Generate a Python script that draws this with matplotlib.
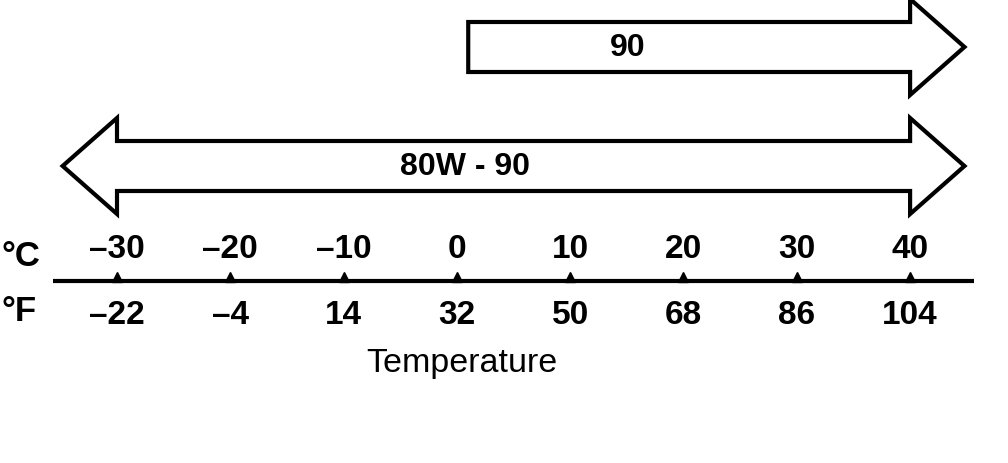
import matplotlib
matplotlib.use("Agg")
import matplotlib.pyplot as plt
from matplotlib.patches import Polygon

# ------------------------------------------------------------------
# data
# ------------------------------------------------------------------
celsius = [-30, -20, -10, 0, 10, 20, 30, 40]
fahrenheit = [-22, -4, 14, 32, 50, 68, 86, 104]

arrow_labels = ["90", "80W - 90"]
arrow_start = [1.0, -30]      # degC
arrow_end = [40, 40]          # degC
arrow_double = [False, True]
arrow_row = [48, 167]         # vertical centre (px from top)
arrow_label_x = [15.1, 0.7]   # degC

axis_title = "Temperature"

# ------------------------------------------------------------------
# layout (x in degC, y in pixels from top)
# ------------------------------------------------------------------
PX_PER_C = 11.33
X0_PX = 117  # pixel position of -30 C
xmin = -30 - X0_PX / PX_PER_C
xmax = -30 + (1008 - X0_PX) / PX_PER_C

BODY_HALF = 25
HEAD_HALF = 48
HEAD_LEN = 4.8  # degC
LINE_Y = 282
LW = 3.0

fig = plt.figure(figsize=(10.08, 4.64), dpi=100)
ax = fig.add_axes([0, 0, 1, 1])
ax.set_xlim(xmin, xmax)
ax.set_ylim(464, 0)
ax.axis("off")


def arrow_shape(x0, x1, yc, double):
    pts = []
    if double:
        pts += [(x0 - HEAD_LEN, yc), (x0, yc - HEAD_HALF), (x0, yc - BODY_HALF)]
    else:
        pts += [(x0, yc - BODY_HALF)]
    pts += [(x1, yc - BODY_HALF), (x1, yc - HEAD_HALF), (x1 + HEAD_LEN, yc),
            (x1, yc + HEAD_HALF), (x1, yc + BODY_HALF)]
    if double:
        pts += [(x0, yc + BODY_HALF), (x0, yc + HEAD_HALF)]
    else:
        pts += [(x0, yc + BODY_HALF)]
    return pts


for lab, s, e, dbl, yc, lx in zip(arrow_labels, arrow_start, arrow_end,
                                  arrow_double, arrow_row, arrow_label_x):
    ax.add_patch(Polygon(arrow_shape(s, e, yc, dbl), closed=True,
                         facecolor="white", edgecolor="black", lw=LW,
                         joinstyle="miter"))
    ax.text(lx, yc, lab, ha="center", va="center", fontsize=23,
            fontweight="bold", family="Liberation Sans")

# scale line with small tick bumps
ax.plot([xmin + 4.7, xmax - 3.0], [LINE_Y, LINE_Y], color="black", lw=LW,
        solid_capstyle="butt")
ax.plot(celsius, [LINE_Y - 4] * len(celsius), "^", color="black",
        markersize=7)

for c, f in zip(celsius, fahrenheit):
    ax.text(c, 250, f"\u2013{abs(c)}" if c < 0 else str(c), ha="center",
            va="center", fontsize=24, fontweight="bold",
            family="Liberation Sans")
    ax.text(c, 316, f"\u2013{abs(f)}" if f < 0 else str(f), ha="center",
            va="center", fontsize=24, fontweight="bold",
            family="Liberation Sans")

ax.text(xmin + 2 / PX_PER_C, 256, "\u00b0C", ha="left", va="center",
        fontsize=25, fontweight="bold", family="Liberation Sans")
ax.text(xmin + 2 / PX_PER_C, 312, "\u00b0F", ha="left", va="center",
        fontsize=25, fontweight="bold", family="Liberation Sans")

ax.text(0.4, 364, axis_title, ha="center", va="center", fontsize=24.5,
        family="Liberation Sans")

plt.savefig("out.png", dpi=100, facecolor="white")
